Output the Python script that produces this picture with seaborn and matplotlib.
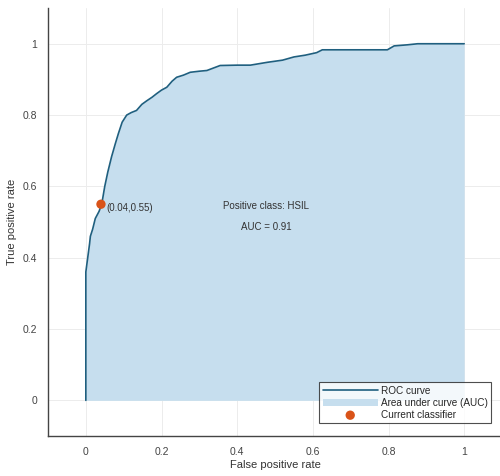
import numpy as np
import pandas as pd
import seaborn as sns
import matplotlib.pyplot as plt

# ROC curve points
fpr = [0.0, 0.0, 0.0, 0.005, 0.01, 0.012, 0.018, 0.025, 0.035, 0.042, 0.05, 0.058,
       0.068, 0.078, 0.086, 0.096, 0.108, 0.12, 0.134, 0.148, 0.161, 0.175, 0.187,
       0.2, 0.214, 0.228, 0.24, 0.258, 0.276, 0.3, 0.32, 0.34, 0.355, 0.4, 0.435,
       0.48, 0.52, 0.55, 0.58, 0.61, 0.625, 0.7, 0.797, 0.815, 0.85, 0.877, 1.0]
tpr = [0.0, 0.2, 0.36, 0.40, 0.44, 0.46, 0.48, 0.51, 0.53, 0.55, 0.60, 0.64,
       0.683, 0.72, 0.748, 0.78, 0.80, 0.807, 0.813, 0.83, 0.84, 0.85, 0.86,
       0.87, 0.878, 0.895, 0.906, 0.912, 0.92, 0.923, 0.925, 0.933, 0.939, 0.94, 0.94,
       0.948, 0.954, 0.963, 0.968, 0.975, 0.983, 0.983, 0.983, 0.994, 0.997, 1.0, 1.0]
roc = pd.DataFrame({"fpr": fpr, "tpr": tpr})

current = pd.DataFrame({"fpr": [0.04], "tpr": [0.55]})
auc = 0.91
pos_class = "HSIL"

ticks = [0, 0.2, 0.4, 0.6, 0.8, 1]
tick_labels = ["0", "0.2", "0.4", "0.6", "0.8", "1"]

sns.set_style("white")
plt.rcParams["font.family"] = ["Liberation Sans", "DejaVu Sans"]

fig = plt.figure(figsize=(5, 4.76), dpi=100)
ax = fig.add_axes([0.096, 0.084, 0.908, 0.899])

ax.fill_between(roc["fpr"], roc["tpr"], 0, color="#c6deee", lw=0,
                label="Area under curve (AUC)", zorder=1)
sns.lineplot(data=roc, x="fpr", y="tpr", ax=ax, color="#1f5f7f", lw=1.2,
             sort=False, estimator=None, label="ROC curve", zorder=3)
sns.scatterplot(data=current, x="fpr", y="tpr", ax=ax, color="#d95319", s=45,
                edgecolor="none", label="Current classifier", zorder=4)

ax.text(current["fpr"][0] + 0.015, current["tpr"][0] - 0.01,
        f"({current['fpr'][0]:.2f},{current['tpr'][0]:.2f})",
        fontsize=7, color="#333333", va="center", ha="left")
ax.text(0.475, 0.546, f"Positive class: {pos_class}", fontsize=7, color="#333333",
        ha="center", va="center")
ax.text(0.478, 0.487, f"AUC = {auc:.2f}", fontsize=7, color="#333333",
        ha="center", va="center")

ax.set_xlim(-0.1, 1.1)
ax.set_ylim(-0.1, 1.1)
ax.set_xticks(ticks)
ax.set_xticklabels(tick_labels)
ax.set_yticks(ticks)
ax.set_yticklabels(tick_labels)
ax.tick_params(direction="in", length=3, labelsize=7.5, colors="#444444",
               color="#444444", pad=8)
ax.grid(True, color="#ececec", lw=0.7, zorder=0)
ax.set_axisbelow(True)
for side in ["top", "right"]:
    ax.spines[side].set_visible(False)
for side in ["left", "bottom"]:
    ax.spines[side].set_color("#444444")
    ax.spines[side].set_linewidth(1.0)

ax.set_xlabel("False positive rate", fontsize=8, color="#333333", labelpad=2)
ax.set_ylabel("True positive rate", fontsize=8, color="#333333", labelpad=4)

handles, labels = ax.get_legend_handles_labels()
order = [labels.index(l) for l in ["ROC curve", "Area under curve (AUC)", "Current classifier"]]
leg = ax.legend([handles[i] for i in order], [labels[i] for i in order],
                loc="lower right", bbox_to_anchor=(0.987, 0.018), fontsize=7.2,
                frameon=True, fancybox=False, edgecolor="#222222",
                borderpad=0.35, labelspacing=0.2, handlelength=5.5,
                handletextpad=0.3)
leg.get_frame().set_linewidth(0.8)

fig.savefig("out.png", dpi=100)
